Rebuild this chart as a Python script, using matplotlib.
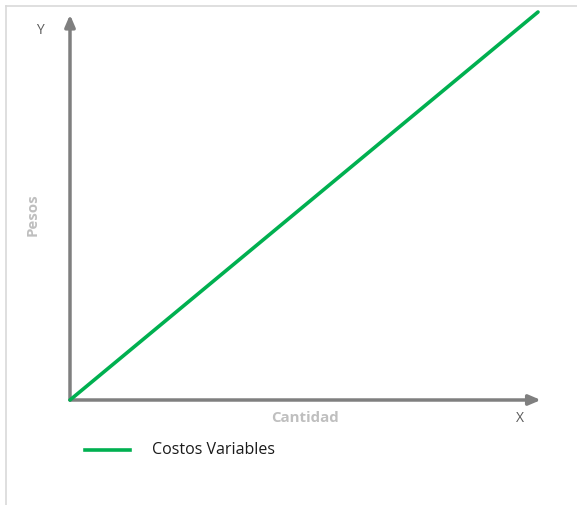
import matplotlib
matplotlib.use("Agg")
from matplotlib import pyplot as plt
from matplotlib.lines import Line2D

# dati
cantidad = [0, 100]
costos_variables = [0, 100]
serie = "Costos Variables"
x_label = "Cantidad"
y_label = "Pesos"

plt.rcParams['font.family'] = ['Open Sans', 'DejaVu Sans']

fig = plt.figure(figsize=(5.77, 5.05), dpi=100)

# cornice grigia della schermata
fig.add_artist(Line2D([6/577, 6/577], [0, 1 - 6/505], transform=fig.transFigure, color='#d9d9d9', lw=1.2))
fig.add_artist(Line2D([6/577, 1], [1 - 6/505, 1 - 6/505], transform=fig.transFigure, color='#d9d9d9', lw=1.2))

ax = fig.add_axes([70/577, 105/505, 468/577, 388/505])
ax.set_xlim(0, 100)
ax.set_ylim(0, 100)
for s in ax.spines.values():
    s.set_visible(False)
ax.set_xticks([])
ax.set_yticks([])
ax.patch.set_alpha(0)

# assi con freccia
ax.annotate('', xy=(100.6, 0), xytext=(0, 0), xycoords='data',
            arrowprops=dict(arrowstyle='-|>,head_length=0.7,head_width=0.3', color='#7f7f7f', lw=2.5, shrinkA=0, shrinkB=0),
            annotation_clip=False)
ax.annotate('', xy=(0, 99.3), xytext=(0, 0), xycoords='data',
            arrowprops=dict(arrowstyle='-|>,head_length=0.7,head_width=0.3', color='#7f7f7f', lw=2.5, shrinkA=0, shrinkB=0),
            annotation_clip=False)

ax.plot(cantidad, costos_variables, color='#00b050', lw=2.6, solid_capstyle='round', clip_on=False, zorder=3)

fig.text(40/577, 1 - 31/505, 'Y', color='#595959', fontsize=10, ha='center', va='center')
fig.text(520/577, 1 - 418/505, 'X', color='#595959', fontsize=10, ha='center', va='center')
fig.text(305/577, 1 - 418/505, x_label, color='#bfbfbf', fontsize=10.8, fontweight='bold', ha='center', va='center')
fig.text(33/577, 1 - 215/505, y_label, color='#bfbfbf', fontsize=10.8, fontweight='bold', rotation=90, ha='center', va='center')

# legenda
fig.add_artist(Line2D([85/577, 130/577], [1 - 450/505, 1 - 450/505], transform=fig.transFigure, color='#00b050', lw=2.6))
fig.text(152/577, 1 - 450/505, serie, color='#1a1a1a', fontsize=11.5, ha='left', va='center')

fig.savefig('out.png', dpi=100)
